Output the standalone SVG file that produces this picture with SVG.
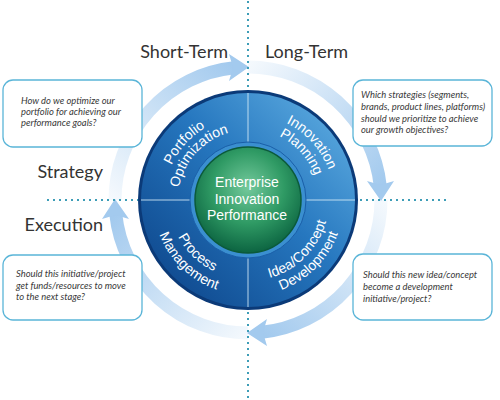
<svg xmlns="http://www.w3.org/2000/svg" width="500" height="400" viewBox="0 0 500 400">
<defs>
<style>
.hd{font-family:Lato,"Liberation Sans",sans-serif;font-size:18px;fill:#333}
.q{font-family:Lato,"Liberation Sans",sans-serif;font-style:italic;font-size:9.4px;fill:#383838}
.box{fill:#fff;stroke:#5ab5d8;stroke-width:1.3}
.dot{stroke:#3d9db7;stroke-width:2;stroke-dasharray:2 4;fill:none}
.wl{font-family:"Liberation Sans",Arial,sans-serif;font-size:14px;fill:#fff}
.dv{stroke:#d5ebf8;stroke-width:1;opacity:.85}
.arc{fill:none;stroke:url(#arcg);stroke-width:13}
.ah{fill:#a3caee}
</style>
<linearGradient id="arcg" gradientUnits="userSpaceOnUse" x1="115" y1="200" x2="234" y2="68">
<stop offset="0" stop-color="#a3caee" stop-opacity="0.12"/>
<stop offset="1" stop-color="#a3caee" stop-opacity="1"/>
</linearGradient>
<linearGradient id="discg" x1="1" y1="0" x2="0" y2="1">
<stop offset="0" stop-color="#66b4e6"/>
<stop offset="0.45" stop-color="#2677bf"/>
<stop offset="1" stop-color="#0a3f84"/>
</linearGradient>
<radialGradient id="greeng" cx="0.5" cy="0.38" r="0.62">
<stop offset="0" stop-color="#74c99c"/>
<stop offset="0.55" stop-color="#2f9a64"/>
<stop offset="1" stop-color="#0c6441"/>
</radialGradient>
<path id="pTL1" d="M168.11 225.96 A84 84 0 0 1 265.46 117.84"/>
<path id="pTL2" d="M181.42 221.63 A70 70 0 0 1 262.55 131.53"/>
<path id="pTR1" d="M230.12 115.88 A86 86 0 0 1 329.79 226.57"/>
<path id="pTR2" d="M233.24 130.55 A71 71 0 0 1 315.53 221.94"/>
<path id="pBR1" d="M227.04 278.24 A81 81 0 0 0 326.24 179.04"/>
<path id="pBR2" d="M223.16 292.73 A96 96 0 0 0 340.73 175.16"/>
<path id="pBL1" d="M171.35 180.89 A79 79 0 0 0 269.77 275.94"/>
<path id="pBL2" d="M155.82 177.02 A95 95 0 0 0 274.18 291.32"/>
</defs>

<g id="connectors">
<g id="arrow-top">
<path class="arc" d="M115 200 A133 133 0 0 1 234.1 67.73"/>
<polygon class="ah" points="249,67 229,54 233,67.5 229,81"/>
</g>
<g id="arrow-right" transform="rotate(90 248 200)">
<path class="arc" d="M115 200 A133 133 0 0 1 234.1 67.73"/>
<polygon class="ah" points="249,67 229,54 233,67.5 229,81"/>
</g>
<g id="arrow-bottom" transform="rotate(180 248 200)">
<path class="arc" d="M115 200 A133 133 0 0 1 234.1 67.73"/>
<polygon class="ah" points="249,67 229,54 233,67.5 229,81"/>
</g>
<g id="arrow-left" transform="rotate(270 248 200)">
<path class="arc" d="M115 200 A133 133 0 0 1 234.1 67.73"/>
<polygon class="ah" points="249,67 229,54 233,67.5 229,81"/>
</g>
</g>

<g id="axes">
<line class="dot" x1="248" y1="1" x2="248" y2="90"/>
<line class="dot" x1="248" y1="312" x2="248" y2="400"/>
<line class="dot" x1="47" y1="200" x2="138" y2="200"/>
<line class="dot" x1="360" y1="200" x2="449" y2="200"/>
</g>

<g id="headings">
<text class="hd" x="228" y="58" text-anchor="end">Short-Term</text>
<text class="hd" x="265" y="58">Long-Term</text>
<text class="hd" x="103" y="178" text-anchor="end">Strategy</text>
<text class="hd" x="103" y="231" text-anchor="end">Execution</text>
</g>

<g id="hub">
<circle cx="248" cy="200" r="110" fill="#0b3a78"/>
<circle cx="248" cy="200" r="107" fill="url(#discg)"/>
<line class="dv" x1="248" y1="93" x2="248" y2="143"/>
<line class="dv" x1="248" y1="257" x2="248" y2="307"/>
<line class="dv" x1="141" y1="200" x2="191" y2="200"/>
<line class="dv" x1="305" y1="200" x2="355" y2="200"/>
</g>

<g id="q-portfolio">
<text class="wl"><textPath href="#pTL1" startOffset="50%" text-anchor="middle">Portfolio</textPath></text>
<text class="wl"><textPath href="#pTL2" startOffset="50%" text-anchor="middle">Optimization</textPath></text>
</g>
<g id="q-innovation">
<text class="wl"><textPath href="#pTR1" startOffset="50%" text-anchor="middle">Innovation</textPath></text>
<text class="wl"><textPath href="#pTR2" startOffset="50%" text-anchor="middle">Planning</textPath></text>
</g>
<g id="q-idea">
<text class="wl"><textPath href="#pBR1" startOffset="50%" text-anchor="middle">Idea/Concept</textPath></text>
<text class="wl"><textPath href="#pBR2" startOffset="50%" text-anchor="middle">Development</textPath></text>
</g>
<g id="q-process">
<text class="wl"><textPath href="#pBL1" startOffset="50%" text-anchor="middle">Process</textPath></text>
<text class="wl"><textPath href="#pBL2" startOffset="50%" text-anchor="middle">Management</textPath></text>
</g>

<g id="center">
<circle cx="248" cy="200" r="58" fill="#3a8fd0" stroke="#1a5ea8" stroke-width="1"/>
<circle cx="248" cy="200" r="53" fill="url(#greeng)" stroke="#0b5a3a" stroke-width="1.5"/>
<text class="wl" text-anchor="middle"><tspan x="247" y="187">Enterprise</tspan><tspan x="247" y="204">Innovation</tspan><tspan x="247" y="220">Performance</tspan></text>
</g>

<g id="box-tl">
<rect class="box" x="3" y="80" width="139" height="67" rx="10"/>
<text class="q"><tspan x="21" y="104">How do we optimize our</tspan><tspan x="21" y="115">portfolio for achieving our</tspan><tspan x="21" y="126">performance goals?</tspan></text>
</g>
<g id="box-tr">
<rect class="box" x="353" y="80" width="139" height="66" rx="10"/>
<text class="q"><tspan x="361" y="98">Which strategies (segments,</tspan><tspan x="361" y="110">brands, product lines, platforms)</tspan><tspan x="361" y="121.5">should we prioritize to achieve</tspan><tspan x="361" y="133">our growth objectives?</tspan></text>
</g>
<g id="box-bl">
<rect class="box" x="3" y="255" width="139" height="65" rx="10"/>
<text class="q"><tspan x="16" y="277">Should this initiative/project</tspan><tspan x="16" y="288.5">get funds/resources to move</tspan><tspan x="16" y="300">to the next stage?</tspan></text>
</g>
<g id="box-br">
<rect class="box" x="353" y="254" width="139" height="66" rx="10"/>
<text class="q"><tspan x="363" y="278">Should this new idea/concept</tspan><tspan x="363" y="290">become a development</tspan><tspan x="363" y="301.5">initiative/project?</tspan></text>
</g>
</svg>
